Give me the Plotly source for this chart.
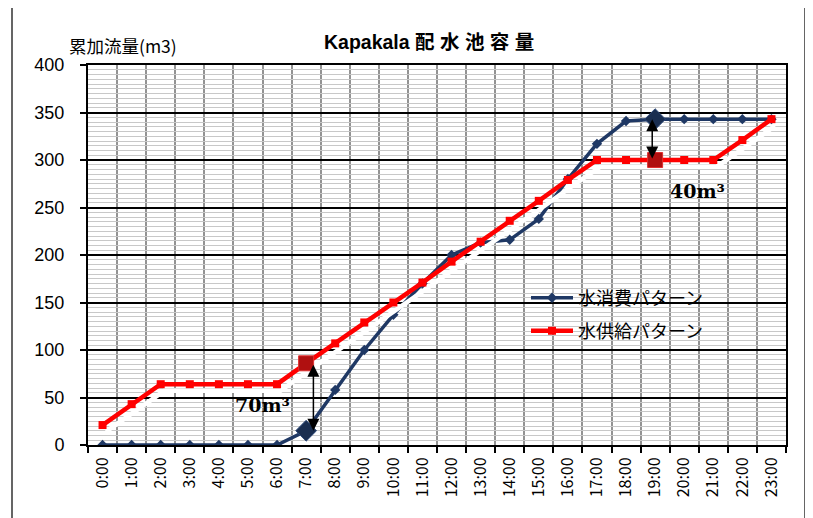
import plotly.graph_objects as go

hours = [f"{h}:00" for h in range(24)]
consumption = [0, 0, 0, 0, 0, 0, 0, 15, 58, 100, 137, 170, 200, 213, 216, 238, 280, 317, 341, 343, 343, 343, 343, 343]
supply = [21, 43, 64, 64, 64, 64, 64, 86, 107, 129, 150, 171, 193, 214, 236, 257, 279, 300, 300, 300, 300, 300, 321, 343]
highlight = [7, 19]
gap_labels = ["70m³", "40m³"]
name_cons = "水消費パターン"
name_sup = "水供給パターン"
title_text = "Kapakala 配 水 池 容 量"
ylabel_text = "累加流量(m3)"

BLUE = "#1F3864"
RED = "#FF0000"
JP = "Noto Sans CJK JP"

xs = list(range(len(hours)))

# page body margin offset (html body has 8px margin)
OFF = 8
FW, FH = 813 - OFF, 518 - OFF
# plot-area geometry in reference pixels
L, R, T, B = 88, 786, 65, 445
W, H = R - L, B - T
def px(x):
    return (x - L) / W
def py(y):
    return (B - y) / H

fig = go.Figure()

fig.add_trace(go.Scatter(
    x=xs, y=consumption, mode="lines+markers", name=name_cons,
    line=dict(color=BLUE, width=3.5),
    marker=dict(symbol="diamond", size=8, color=BLUE),
    legend="legend",
))
fig.add_trace(go.Scatter(
    x=[v + 0.12 for v in xs], y=[v - 7 for v in supply], mode="lines",
    line=dict(color="white", width=4.5), showlegend=False, hoverinfo="skip",
))
fig.add_trace(go.Scatter(
    x=xs, y=supply, mode="lines+markers", name=name_sup,
    line=dict(color=RED, width=4.5),
    marker=dict(symbol="square", size=8, color=RED),
    legend="legend2",
))
fig.add_trace(go.Scatter(
    x=[xs[i] for i in highlight], y=[supply[i] for i in highlight], mode="markers",
    marker=dict(symbol="square", size=15, color="#B01010", line=dict(color="#E03030", width=1)),
    showlegend=False, hoverinfo="skip",
))
fig.add_trace(go.Scatter(
    x=[xs[i] for i in highlight], y=[consumption[i] for i in highlight], mode="markers",
    marker=dict(symbol="diamond", size=16, color="#1A2E50", line=dict(color="#2E4A7A", width=1)),
    showlegend=False, hoverinfo="skip",
))

annotations = []
arrow_dx = [0.25, -0.1]
for k, i in enumerate(highlight):
    annotations.append(dict(
        x=xs[i] + arrow_dx[k], y=consumption[i], ax=xs[i] + arrow_dx[k], ay=supply[i],
        xref="x", yref="y", axref="x", ayref="y", text="", showarrow=True,
        arrowhead=2, startarrowhead=2, arrowside="end+start", arrowsize=1.6,
        startarrowsize=1.6, arrowwidth=1.5, arrowcolor="black",
    ))

annotations.append(dict(x=px(262), y=py(405), xref="paper", yref="paper", text="<b>" + gap_labels[0] + "</b>",
                        showarrow=False, font=dict(family="DejaVu Serif", size=19, color="black"),
                        xanchor="center", yanchor="middle"))
annotations.append(dict(x=px(697), y=py(191), xref="paper", yref="paper", text="<b>" + gap_labels[1] + "</b>",
                        showarrow=False, font=dict(family="DejaVu Serif", size=19, color="black"),
                        xanchor="center", yanchor="middle"))
annotations.append(dict(x=px(429), y=py(42), xref="paper", yref="paper", text="<b>" + title_text + "</b>",
                        showarrow=False, font=dict(family="Liberation Sans, " + JP, size=19.5, color="black"),
                        xanchor="center", yanchor="middle"))
annotations.append(dict(x=px(67), y=py(45), xref="paper", yref="paper", text=ylabel_text,
                        showarrow=False, font=dict(family=JP, size=17.5, color="black"),
                        xanchor="left", yanchor="middle"))

shapes = [dict(type="rect", xref="paper", yref="paper", x0=px(12), x1=px(805), y0=py(540), y1=py(6),
               line=dict(color="#333333", width=1.5), layer="below")]

fig.update_layout(
    width=FW, height=FH,
    margin=dict(l=L - OFF, r=813 - R, t=T - OFF, b=518 - B),
    paper_bgcolor="white", plot_bgcolor="white",
    showlegend=True,
    legend=dict(x=px(526), y=py(298), xanchor="left", yanchor="middle", bgcolor="rgba(0,0,0,0)",
                font=dict(family=JP, size=18, color="black"), itemwidth=42),
    legend2=dict(x=px(526), y=py(331), xanchor="left", yanchor="middle", bgcolor="rgba(0,0,0,0)",
                 font=dict(family=JP, size=18, color="black"), itemwidth=42),
    annotations=annotations,
    shapes=shapes,
    xaxis=dict(
        range=[-0.5, len(hours) - 0.5], tickmode="array", tickvals=xs, ticktext=hours,
        tickangle=-90, showgrid=False, ticks="", zeroline=False,
        tickfont=dict(family=JP, size=16, color="black"), ticklabelstandoff=4,
        showline=True, linecolor="black", linewidth=2, mirror=True,
        minor=dict(tick0=-0.5, dtick=1, showgrid=True, gridcolor="#939393", gridwidth=1.5,
                   ticks="outside", ticklen=6, tickcolor="black", tickwidth=1.5),
        fixedrange=True,
    ),
    yaxis=dict(
        range=[0, 400], dtick=50, showgrid=True, gridcolor="black", gridwidth=1.5,
        ticks="outside", ticklen=6, tickcolor="black", tickwidth=1.5,
        tickfont=dict(family="Liberation Sans", size=18, color="black"), ticklabelstandoff=12,
        showline=True, linecolor="black", linewidth=2, mirror=True, zeroline=False,
        minor=dict(dtick=5, showgrid=True, gridcolor="#C8C8C8", gridwidth=1),
        fixedrange=True,
    ),
)

fig.write_html("out.html")
